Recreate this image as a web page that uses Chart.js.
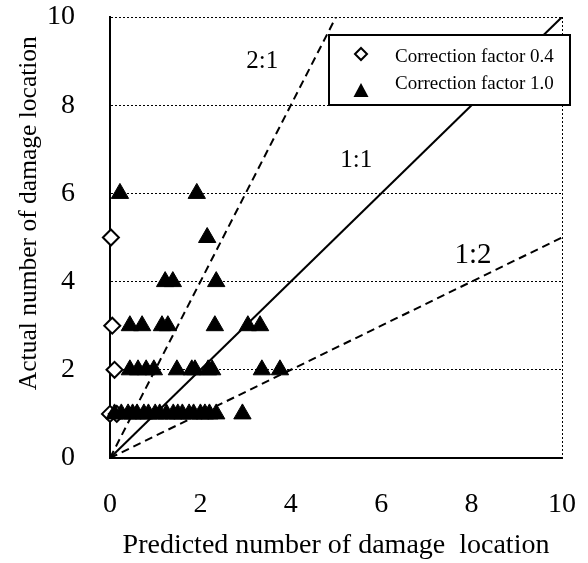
<!DOCTYPE html>
<html>
<head>
<meta charset="utf-8">
<script src="https://cdn.jsdelivr.net/npm/chart.js@4.4.1/dist/chart.umd.min.js"></script>
<style>
  html, body { margin: 0; padding: 0; background: #fff; }
</style>
</head>
<body>
<canvas id="chart" width="588" height="563"></canvas>
<script>
// axis ticks
const xTicks = [0, 2, 4, 6, 8, 10];
const yTicks = [0, 2, 4, 6, 8, 10];

// Correction factor 0.4 (open diamonds)
const cf04X = [0.0, 0.15, 0.1, 0.05, 0.02];
const cf04Y = [1, 1, 2, 3, 5];

// Correction factor 1.0 (filled triangles)
const cf10X = [
  0.1, 0.25, 0.4, 0.5, 0.6, 0.75, 0.85, 1.0, 1.1, 1.25, 1.4, 1.5, 1.6, 1.75, 1.85, 2.0, 2.1, 2.2, 2.35, 2.93,
  0.44, 0.62, 0.8, 0.97, 1.48, 1.81, 1.88, 2.17, 2.26, 3.36, 3.76,
  0.44, 0.71, 1.15, 1.28, 2.32, 3.05, 3.32,
  1.22, 1.39, 2.35,
  2.15,
  0.22, 1.92
];
const cf10Y = [
  1, 1, 1, 1, 1, 1, 1, 1, 1, 1, 1, 1, 1, 1, 1, 1, 1, 1, 1, 1,
  2, 2, 2, 2, 2, 2, 2, 2, 2, 2, 2,
  3, 3, 3, 3, 3, 3, 3,
  4, 4, 4,
  5,
  6, 6
];

// reference ratio lines, all start at the origin
const ratioLabels = ['2:1', '1:1', '1:2'];
const ratioEndX = [5, 10, 10];
const ratioEndY = [10, 10, 5];

const legendLabels = ['Correction factor 0.4', 'Correction factor 1.0'];

const serif = '"Liberation Serif", "Times New Roman", serif';

const toPoints = (xs, ys) => xs.map((x, i) => ({ x: x, y: ys[i] }));

// where the ratio names sit, in data units
const ratioTextPos = [[3.37, 9.0], [5.45, 6.75], [8.03, 4.6]];
const ratioTextSize = [25, 25, 29];

const ratioText = {
  id: 'ratioText',
  afterDatasetsDraw(chart) {
    const { ctx, scales: { x, y } } = chart;
    ctx.save();
    ctx.fillStyle = '#000';
    ctx.textAlign = 'center';
    ctx.textBaseline = 'middle';
    ratioLabels.forEach((t, i) => {
      ctx.font = ratioTextSize[i] + 'px ' + serif;
      ctx.fillText(t, x.getPixelForValue(ratioTextPos[i][0]), y.getPixelForValue(ratioTextPos[i][1]));
    });
    ctx.restore();
  }
};

// boxed legend in the upper right corner
const boxLegend = {
  id: 'boxLegend',
  afterDraw(chart) {
    const { ctx, scales: { y } } = chart;
    const x0 = 329, y0 = 35, x1 = 570, y1 = Math.round(y.getPixelForValue(8));
    ctx.save();
    ctx.fillStyle = '#fff';
    ctx.fillRect(x0, y0, x1 - x0, y1 - y0);
    ctx.strokeStyle = '#000';
    ctx.lineWidth = 2;
    ctx.strokeRect(x0, y0, x1 - x0, y1 - y0);

    // open diamond
    const mx = 361;
    ctx.beginPath();
    ctx.moveTo(mx - 6, 54); ctx.lineTo(mx, 48); ctx.lineTo(mx + 6, 54); ctx.lineTo(mx, 60);
    ctx.closePath();
    ctx.fillStyle = '#fff';
    ctx.fill();
    ctx.stroke();
    // filled triangle
    ctx.beginPath();
    ctx.moveTo(mx, 83); ctx.lineTo(mx + 7.5, 97); ctx.lineTo(mx - 7.5, 97);
    ctx.closePath();
    ctx.fillStyle = '#000';
    ctx.fill();

    ctx.font = '19px ' + serif;
    ctx.textAlign = 'left';
    ctx.textBaseline = 'middle';
    ctx.fillText(legendLabels[0], 395, 57);
    ctx.fillText(legendLabels[1], 395, 84);
    ctx.restore();
  }
};

const datasets = ratioLabels.map((name, i) => ({
  type: 'line',
  label: name,
  data: [{ x: 0, y: 0 }, { x: ratioEndX[i], y: ratioEndY[i] }],
  borderColor: '#000',
  borderWidth: 2,
  borderDash: name === '1:1' ? [] : [8, 5],
  pointRadius: 0,
  order: 3
}));

datasets.push({
  type: 'scatter',
  label: legendLabels[0],
  data: toPoints(cf04X, cf04Y),
  pointStyle: 'rectRot',
  pointRadius: 8,
  backgroundColor: '#fff',
  borderColor: '#000',
  borderWidth: 2,
  clip: false,
  order: 2
});

datasets.push({
  type: 'scatter',
  label: legendLabels[1],
  data: toPoints(cf10X, cf10Y),
  pointStyle: 'triangle',
  pointRadius: 10,
  backgroundColor: '#000',
  borderColor: '#000',
  borderWidth: 1,
  clip: false,
  order: 1
});

// fixed axis box sizes; drop the label overflow padding so the plot area stays put
const fixBox = (w, h) => (scale) => {
  if (w) scale.width = w;
  if (h) scale.height = h;
  scale.paddingLeft = scale.paddingRight = scale.paddingTop = scale.paddingBottom = 0;
};

new Chart(document.getElementById('chart'), {
  data: { datasets: datasets },
  options: {
    responsive: false,
    animation: false,
    layout: { padding: { top: 17, right: 26, left: 0, bottom: 0 } },
    plugins: {
      legend: { display: false },
      tooltip: { enabled: false }
    },
    scales: {
      x: {
        type: 'linear',
        min: 0,
        max: 10,
        afterFit: fixBox(0, 105),
        afterBuildTicks: (scale) => { scale.ticks = xTicks.map(v => ({ value: v })); },
        ticks: {
          color: '#000',
          padding: 30,
          font: { family: serif, size: 28 }
        },
        grid: {
          drawTicks: false,
          lineWidth: 1,
          color: (c) => (c.tick && c.tick.value === 10 ? '#000' : 'rgba(0,0,0,0)')
        },
        border: { color: '#000', width: 2, dash: [2, 2] },
        title: {
          display: true,
          text: 'Predicted number of damage  location',
          color: '#000',
          padding: { top: 0, bottom: 1 },
          font: { family: serif, size: 28 }
        }
      },
      y: {
        type: 'linear',
        min: 0,
        max: 10,
        afterFit: fixBox(110, 0),
        afterBuildTicks: (scale) => { scale.ticks = yTicks.map(v => ({ value: v })); },
        ticks: {
          color: '#000',
          padding: 35,
          font: { family: serif, size: 28 }
        },
        grid: { drawTicks: false, lineWidth: 1, color: '#000' },
        border: { color: '#000', width: 2, dash: [2, 2] },
        title: {
          display: true,
          text: 'Actual number of damage location\u2002 ',
          align: 'end',
          color: '#000',
          padding: { top: 14, bottom: 0 },
          font: { family: serif, size: 25.5 }
        }
      }
    }
  },
  plugins: [ratioText, boxLegend]
});
</script>
</body>
</html>
